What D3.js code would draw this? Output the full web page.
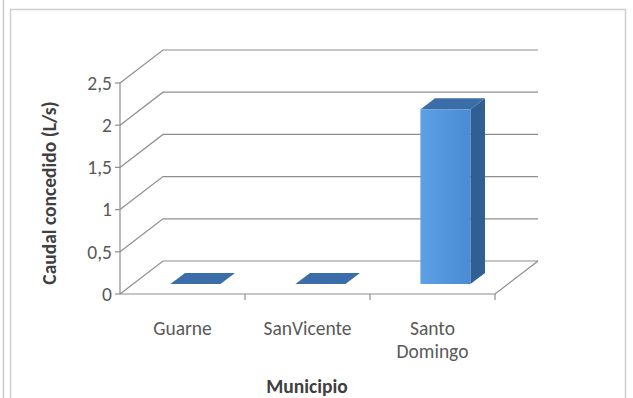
<!DOCTYPE html>
<html>
<head>
<meta charset="utf-8">
<script src="https://cdn.jsdelivr.net/npm/d3@7"></script>
<style>
  html, body { margin: 0; padding: 0; background: #fff; }
  svg { display: block; font-family: Carlito, Lato, "Liberation Sans", sans-serif; }
</style>
</head>
<body>
<svg id="chart" width="633" height="398"></svg>
<script>
// Caudal concedido por municipio (L/s)
const categories = ["Guarne", "SanVicente", "Santo Domingo"];
const categoryLines = [["Guarne"], ["SanVicente"], ["Santo", "Domingo"]];
const caudal = [0, 0, 2.07];
const yTicks = [0, 0.5, 1, 1.5, 2, 2.5];
const yTickLabels = ["0", "0,5", "1", "1,5", "2", "2,5"];
const yTitle = "Caudal concedido (L/s)";
const xTitle = "Municipio";

const svg = d3.select("#chart");
const FONT = 19.5;

// Oblique 3D projection: depth d in [0,1] shifts right and up
const DX = 43, DY = -33;
const x = d3.scaleBand().domain(categories).range([120, 495])
  .paddingInner(0.6).paddingOuter(0.3);
const xEdge = d3.scaleLinear().domain([0, categories.length]).range([120, 495]);
const y = d3.scaleLinear().domain([0, 2.5]).range([294, 83]);
const P = (px, v, d) => [px + d * DX, y(v) + d * DY];
const D0 = 0.3, D1 = 0.64;   // depth extent of the columns

// Frame
svg.append("line").attr("x1", 3.5).attr("x2", 3.5).attr("y1", 0).attr("y2", 398)
  .attr("stroke", "#c8c8c8").attr("stroke-width", 1.5);
svg.append("path")
  .attr("d", "M10.5,398 V9.5 H625.5 V398")
  .attr("fill", "none").attr("stroke", "#cfcfcf").attr("stroke-width", 1.5);

const grid = svg.append("g").attr("stroke", "#8e8e8e").attr("stroke-width", 1.2).attr("fill", "none");

// Back wall gridlines and side-wall diagonals
yTicks.forEach(t => {
  const a = P(xEdge(0), t, 0), b = P(xEdge(0), t, 1), c = P(xEdge(3), t, 1);
  grid.append("path").attr("d", `M${a}L${b}L${c}`);
});

// Floor outline
{
  const fl = P(xEdge(0), 0, 0), fr = P(xEdge(3), 0, 0), br = P(xEdge(3), 0, 1);
  grid.append("path").attr("d", `M${fl}L${fr}L${br}`);
}

// Value axis line and ticks
const axisG = svg.append("g").attr("stroke", "#8e8e8e").attr("stroke-width", 1.2);
axisG.append("line").attr("x1", xEdge(0)).attr("x2", xEdge(0))
  .attr("y1", y(0)).attr("y2", y(2.5));
yTicks.forEach(t => {
  axisG.append("line").attr("x1", xEdge(0) - 5).attr("x2", xEdge(0))
    .attr("y1", y(t)).attr("y2", y(t));
});
// Category ticks
d3.range(1, categories.length + 1).forEach(i => {
  axisG.append("line").attr("x1", xEdge(i)).attr("x2", xEdge(i))
    .attr("y1", y(0)).attr("y2", y(0) + 6);
});

// Tick labels
svg.append("g").selectAll("text").data(yTicks).join("text")
  .attr("x", xEdge(0) - 8).attr("y", t => y(t)).attr("dy", "0.35em")
  .attr("text-anchor", "end").attr("fill", "#595959").attr("font-size", FONT)
  .text((t, i) => yTickLabels[i]);

// Columns
const defs = svg.append("defs");
const grad = defs.append("linearGradient").attr("id", "front").attr("x1", 0).attr("x2", 1);
grad.append("stop").attr("offset", 0).attr("stop-color", "#5da0e4");
grad.append("stop").attr("offset", 1).attr("stop-color", "#4a8bd4");

const bars = svg.append("g");
categories.forEach((c, i) => {
  const v = caudal[i];
  const x0 = x(c), x1 = x(c) + x.bandwidth();
  const g = bars.append("g");
  // top face
  const top = [P(x0, v, D0), P(x1, v, D0), P(x1, v, D1), P(x0, v, D1)];
  g.append("path").attr("d", "M" + top.join("L") + "Z").attr("fill", "#3b6ea8");
  if (v > 0) {
    // right side face
    const side = [P(x1, 0, D0), P(x1, v, D0), P(x1, v, D1), P(x1, 0, D1)];
    g.append("path").attr("d", "M" + side.join("L") + "Z").attr("fill", "#2f5f93");
    // front face
    const front = [P(x0, 0, D0), P(x1, 0, D0), P(x1, v, D0), P(x0, v, D0)];
    g.append("path").attr("d", "M" + front.join("L") + "Z").attr("fill", "url(#front)");
  }
});

// Category labels
const catG = svg.append("g").attr("fill", "#595959").attr("font-size", FONT).attr("text-anchor", "middle");
categories.forEach((c, i) => {
  const cx = x(c) + x.bandwidth() / 2;
  const t = catG.append("text").attr("x", cx).attr("y", 335);
  categoryLines[i].forEach((line, k) => {
    t.append("tspan").attr("x", cx).attr("dy", k === 0 ? 0 : 23).text(line);
  });
});

// Axis titles
svg.append("text").attr("transform", "translate(56,193) rotate(-90)")
  .attr("text-anchor", "middle").attr("font-weight", "bold").attr("font-size", FONT)
  .attr("fill", "#404040").text(yTitle);
svg.append("text").attr("x", 307).attr("y", 393)
  .attr("text-anchor", "middle").attr("font-weight", "bold").attr("font-size", FONT)
  .attr("fill", "#404040").text(xTitle);
</script>
</body>
</html>
